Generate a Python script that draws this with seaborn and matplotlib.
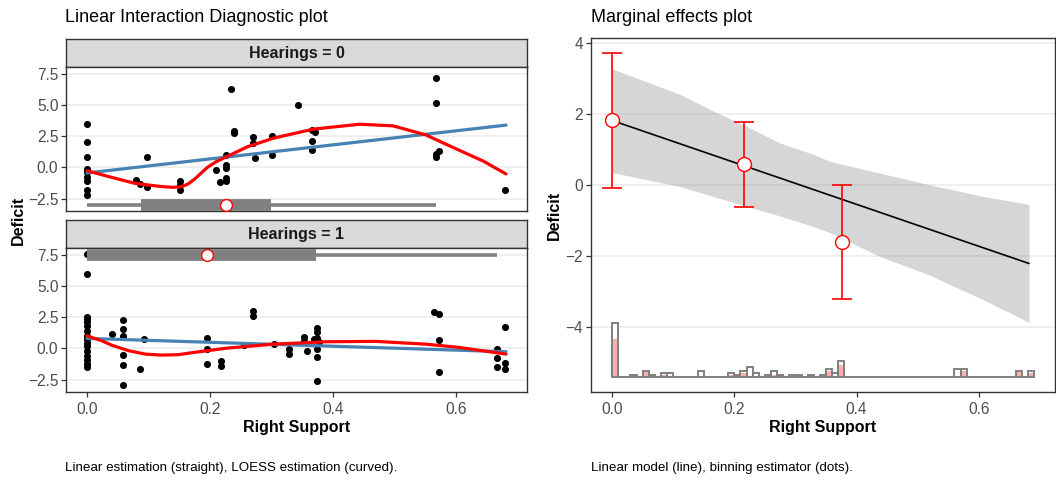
import numpy as np
import matplotlib
matplotlib.use("Agg")
import matplotlib.pyplot as plt
import seaborn as sns

# ---------------- raw observations, Hearings = 0 ----------------
h0_x = [0, 0, 0, 0, 0, 0, 0, 0, 0,
        0.079, 0.087, 0.098, 0.098, 0.151, 0.151, 0.151,
        0.210, 0.217, 0.226, 0.226, 0.226, 0.226, 0.226, 0.234, 0.240, 0.240,
        0.271, 0.271, 0.274, 0.301, 0.301, 0.344, 0.367, 0.371, 0.367, 0.367,
        0.568, 0.568, 0.573, 0.568, 0.568, 0.681]
h0_y = [3.51, 2.03, 0.85, -0.13, -0.34, -0.80, -1.12, -1.81, -2.18,
        -0.98, -1.33, 0.80, -1.60, -1.06, -1.38, -1.81,
        -0.21, -1.14, 0.99, 0.19, -0.08, -0.85, -1.12, 6.31, 2.93, 2.75,
        2.45, 1.95, 0.72, 2.51, 0.99, 5.03, 2.99, 2.80, 2.08, 1.39,
        7.19, 5.17, 1.33, 1.07, 0.85, -1.81]

# ---------------- raw observations, Hearings = 1 ----------------
h1_x = [0, 0, 0, 0, 0, 0, 0, 0, 0, 0, 0, 0, 0, 0, 0, 0,
        0.041, 0.059, 0.059, 0.059, 0.059, 0.059, 0.059, 0.087, 0.093,
        0.195, 0.195, 0.195, 0.218, 0.218, 0.255, 0.271, 0.271, 0.304,
        0.328, 0.328, 0.354, 0.354, 0.358, 0.370,
        0.374, 0.374, 0.374, 0.374, 0.374, 0.374, 0.377,
        0.565, 0.573, 0.573, 0.573, 0.667, 0.667, 0.667, 0.681, 0.681, 0.681]
h1_y = [7.53, 5.93, 2.55, 2.34, 2.08, 1.76, 1.41, 1.01, 0.74, 0.42, 0.16,
        -0.19, -0.64, -0.91, -1.25, -1.52,
        1.12, 2.28, 1.54, 0.96, -0.54, -1.31, -2.93, -1.65, 0.74,
        0.82, -0.06, -1.28, -0.99, -1.44, 0.26, 3.00, 2.56, 0.34,
        -0.06, -0.46, 0.88, 0.61, -0.19, 0.74,
        1.60, 1.28, 0.82, -0.06, -0.72, -2.64, 0.53,
        2.88, 2.74, 0.66, -1.92, -0.06, -0.80, -1.52, 1.68, -1.17, -1.65]

# ---------------- fitted lines per facet ----------------
lin_x = [0.0, 0.682]
lin_h0 = [-0.45, 3.39]
lin_h1 = [0.80, -0.27]

loess_h0_x = [0.0, 0.040, 0.078, 0.121, 0.140, 0.153, 0.164, 0.175, 0.186, 0.196,
              0.210, 0.226, 0.261, 0.304, 0.369, 0.444, 0.498, 0.551, 0.605, 0.645, 0.682]
loess_h0_y = [-0.27, -0.80, -1.28, -1.54, -1.60, -1.56, -1.35, -0.95, -0.45, 0.0,
              0.45, 0.82, 1.65, 2.35, 3.07, 3.46, 3.33, 2.61, 1.39, 0.50, -0.53]
loess_h1_x = [0.0, 0.024, 0.040, 0.068, 0.095, 0.121, 0.148, 0.175, 0.228,
              0.304, 0.389, 0.470, 0.551, 0.605, 0.682]
loess_h1_y = [1.01, 0.61, 0.26, -0.19, -0.46, -0.54, -0.51, -0.32, 0.02,
              0.34, 0.53, 0.56, 0.34, 0.08, -0.46]

# distribution of the moderator in each facet: whisker lo/hi, box lo/hi, median
dist_h0 = [0.0, 0.568, 0.088, 0.300, 0.226]
dist_h1 = [0.0, 0.667, 0.0, 0.373, 0.195]
dist_y = [-2.98, 7.48]

# ---------------- marginal effects ----------------
me_x = [0.0, 0.682]
me_y = [1.82, -2.22]
band_x = [0.0, 0.112, 0.166, 0.221, 0.275, 0.330, 0.357, 0.439, 0.520, 0.548, 0.602, 0.682]
band_lo = [0.35, -0.05, -0.33, -0.61, -0.88, -1.18, -1.35, -2.03, -2.55, -2.78, -3.20, -3.88]
band_hi = [3.28, 2.55, 2.08, 1.65, 1.18, 0.86, 0.66, 0.33, 0.00, -0.10, -0.31, -0.55]

bin_x = [0.0, 0.2165, 0.376]
bin_est = [1.82, 0.585, -1.60]
bin_lo = [-0.09, -0.61, -3.21]
bin_hi = [3.73, 1.79, 0.00]

# histogram of Right Support, bins of width 0.01 from 0 to 0.69
hist_total = np.zeros(69, dtype=int)
hist_treat = np.zeros(69, dtype=int)
hist_bins_total = {0: 27, 3: 1, 5: 3, 6: 1, 8: 2, 9: 2, 14: 3, 19: 2, 20: 1, 21: 3,
                   22: 5, 23: 2, 25: 1, 26: 3, 27: 1, 29: 1, 30: 1, 32: 1, 34: 1,
                   35: 4, 36: 2, 37: 8, 56: 4, 57: 4, 66: 3, 68: 3}
hist_bins_treat = {0: 19, 5: 3, 8: 1, 19: 1, 21: 2, 26: 1, 27: 1, 32: 1,
                   35: 3, 37: 6, 57: 3, 66: 3, 68: 2}
for k, v in hist_bins_total.items():
    hist_total[k] = v
for k, v in hist_bins_treat.items():
    hist_treat[k] = v
hist_edges = np.round(np.arange(0, 0.6901, 0.01), 2)

# ---------------- styling ----------------
sns.set_theme(style="white")
plt.rcParams["font.family"] = ["Liberation Sans", "DejaVu Sans"]
plt.rcParams["axes.unicode_minus"] = True

W, H = 1056, 483
fig = plt.figure(figsize=(W / 100, H / 100), dpi=100)
fig.patch.set_facecolor("white")


def rect(x0, y0, x1, y1):
    return [x0 / W, 1 - y1 / H, (x1 - x0) / W, (y1 - y0) / H]


BORDER = "#333333"
GRID = "#EBEBEB"
TICKLAB = "#4D4D4D"
TICK_FS = 11.2
LAB_FS = 11.5
TITLE_FS = 13
CAP_FS = 9.6
XLIM_L = (-0.0341, 0.7161)
XLIM_R = (-0.0345, 0.7245)


def style_panel(ax, show_x=True):
    for s in ax.spines.values():
        s.set_color(BORDER)
        s.set_linewidth(1.0)
        s.set_visible(True)
    ax.grid(True, axis="y", color=GRID, linewidth=1.1)
    ax.grid(False, axis="x")
    ax.set_axisbelow(True)
    ax.tick_params(axis="y", left=True, length=3.5, width=0.9, color=BORDER,
                   labelsize=TICK_FS, labelcolor=TICKLAB, pad=2)
    if show_x:
        ax.tick_params(axis="x", bottom=True, length=3.5, width=0.9, color=BORDER,
                       labelsize=TICK_FS, labelcolor=TICKLAB, pad=3.5)
    else:
        ax.tick_params(axis="x", bottom=False, labelbottom=False)
    ax.set_xlabel("")
    ax.set_ylabel("")


def strip(x0, y0, x1, y1, label):
    sa = fig.add_axes(rect(x0, y0, x1, y1))
    sa.set_facecolor("#D9D9D9")
    for s in sa.spines.values():
        s.set_color(BORDER)
        s.set_linewidth(1.0)
    sa.set_xticks([])
    sa.set_yticks([])
    sa.text(0.5, 0.47, label, ha="center", va="center", fontsize=LAB_FS,
            fontweight="bold", color="#1A1A1A", transform=sa.transAxes)


def facet(ax, xs, ys, lx, ly, loess_x, loess_y, dist, dy):
    sns.scatterplot(x=xs, y=ys, ax=ax, color="black", s=26, linewidth=0, zorder=3)
    # moderator distribution: whisker, interquartile box, median
    ax.hlines(dy, dist[0], dist[1], color="#808080", linewidth=2.6, zorder=4)
    ax.hlines(dy, dist[2], dist[3], color="#808080", linewidth=8.5, zorder=4)
    ax.plot([dist[4]], [dy], marker="o", markersize=8.5, markerfacecolor="white",
            markeredgecolor="red", markeredgewidth=1.0, zorder=6)
    sns.lineplot(x=lx, y=ly, ax=ax, color="#4682B4", linewidth=2.3,
                 estimator=None, zorder=5)
    sns.lineplot(x=loess_x, y=loess_y, ax=ax, color="red", linewidth=2.3,
                 estimator=None, sort=False, zorder=5)
    ax.set_xlim(*XLIM_L)
    ax.set_ylim(-3.5, 8.05)
    ax.set_yticks([-2.5, 0, 2.5, 5.0, 7.5])
    ax.set_yticklabels(["\u22122.5", "0.0", "2.5", "5.0", "7.5"])
    ax.set_xticks([0, 0.2, 0.4, 0.6])
    ax.set_xticklabels(["0.0", "0.2", "0.4", "0.6"])


# ---------------- left: diagnostic facets ----------------
LX0, LX1 = 66, 527
strip(LX0, 39, LX1, 67, "Hearings = 0")
ax0 = fig.add_axes(rect(LX0, 67, LX1, 211))
facet(ax0, h0_x, h0_y, lin_x, lin_h0, loess_h0_x, loess_h0_y, dist_h0, dist_y[0])
style_panel(ax0, show_x=False)

strip(LX0, 220, LX1, 248, "Hearings = 1")
ax1 = fig.add_axes(rect(LX0, 248, LX1, 392))
facet(ax1, h1_x, h1_y, lin_x, lin_h1, loess_h1_x, loess_h1_y, dist_h1, dist_y[1])
style_panel(ax1, show_x=True)
ax1.set_xlabel("Right Support", fontsize=LAB_FS, fontweight="bold", color="black",
               labelpad=2.5)

fig.text(65 / W, 1 - 18 / H, "Linear Interaction Diagnostic plot", fontsize=TITLE_FS,
         ha="left", va="center", color="black")
fig.text(18 / W, 1 - 220 / H, "Deficit", fontsize=LAB_FS, fontweight="bold",
         rotation=90, ha="center", va="center", color="black")
fig.text(65 / W, 1 - 468 / H, "Linear estimation (straight), LOESS estimation (curved).",
         fontsize=CAP_FS, ha="left", va="center", color="black")

# ---------------- right: marginal effects ----------------
axr = fig.add_axes(rect(591, 38, 1055, 392))
base = -5.44
unit = 0.0567
widths = np.diff(hist_edges)
lefts = hist_edges[:-1]
axr.bar(lefts, hist_total * unit, width=widths, bottom=base, align="edge",
        color="white", edgecolor="none", zorder=2)
axr.bar(lefts, hist_treat * unit, width=widths, bottom=base, align="edge",
        color="#FFAEAE", edgecolor="none", zorder=3)
axr.bar(lefts, hist_total * unit, width=widths, bottom=base, align="edge",
        fill=False, edgecolor="#808080", linewidth=1.4, zorder=4)

axr.fill_between(band_x, band_lo, band_hi, color="#808080", alpha=0.32,
                 linewidth=0, zorder=2)
sns.lineplot(x=me_x, y=me_y, ax=axr, color="black", linewidth=1.2,
             estimator=None, zorder=5)
yerr = [np.array(bin_est) - np.array(bin_lo), np.array(bin_hi) - np.array(bin_est)]
axr.errorbar(bin_x, bin_est, yerr=yerr, fmt="none", ecolor="red", elinewidth=1.2,
             capsize=7, capthick=1.2, zorder=6)
axr.plot(bin_x, bin_est, linestyle="none", marker="o", markersize=10,
         markerfacecolor="white", markeredgecolor="red", markeredgewidth=1.0, zorder=7)

axr.set_xlim(*XLIM_R)
axr.set_ylim(-5.85, 4.15)
axr.set_yticks([-4, -2, 0, 2, 4])
axr.set_yticklabels(["\u22124", "\u22122", "0", "2", "4"])
axr.set_xticks([0, 0.2, 0.4, 0.6])
axr.set_xticklabels(["0.0", "0.2", "0.4", "0.6"])
style_panel(axr, show_x=True)
axr.set_xlabel("Right Support", fontsize=LAB_FS, fontweight="bold", color="black",
               labelpad=2.5)
axr.set_ylabel("Deficit", fontsize=LAB_FS, fontweight="bold", color="black", labelpad=3)

fig.text(591 / W, 1 - 18 / H, "Marginal effects plot", fontsize=TITLE_FS,
         ha="left", va="center", color="black")
fig.text(591 / W, 1 - 468 / H, "Linear model (line), binning estimator (dots).",
         fontsize=CAP_FS, ha="left", va="center", color="black")

fig.savefig("out.png", dpi=100, facecolor="white")
